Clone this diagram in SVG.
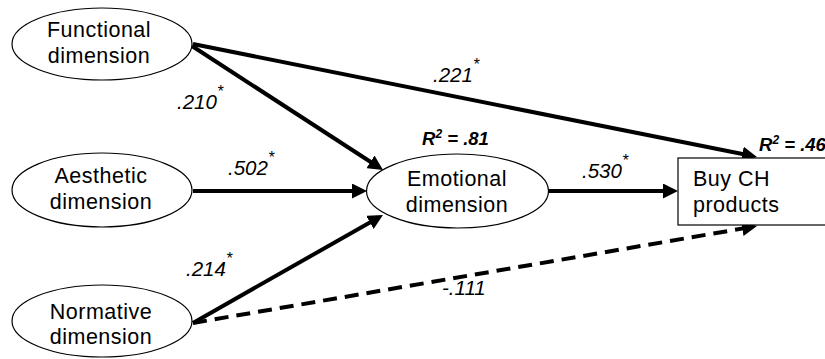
<svg xmlns="http://www.w3.org/2000/svg" width="825" height="359" viewBox="0 0 825 359">
  <style>
    .node { fill: #ffffff; stroke: #000000; stroke-width: 1.2; }
    .lbl { font-family: "Liberation Sans", Arial, sans-serif; font-size: 21.5px; letter-spacing: 0.5px; fill: #000000; text-anchor: middle; }
    .lbl-left { font-family: "Liberation Sans", Arial, sans-serif; font-size: 21.5px; letter-spacing: 0.5px; fill: #000000; }
    .coef { font-family: "Liberation Sans", Arial, sans-serif; font-size: 20.5px; font-style: italic; fill: #000000; }
    .star { font-size: 16px; }
    .rsq { font-family: "Liberation Sans", Arial, sans-serif; font-size: 18.5px; font-style: italic; font-weight: bold; fill: #000000; }
    .path { stroke: #000000; stroke-width: 4; fill: none; }
    .dashed { stroke-dasharray: 14 8; }
  </style>
  <defs>
    <marker id="arrow" markerUnits="userSpaceOnUse" markerWidth="15" markerHeight="15" refX="4" refY="7.5" orient="auto">
      <path d="M0,0 L15,7.5 L0,15 z" fill="#000000"/>
    </marker>
  </defs>

  <!-- paths between constructs -->
  <g id="connectors">
    <line class="path" x1="193" y1="44" x2="746.2" y2="154.8" marker-end="url(#arrow)"/>
    <line class="path" x1="192" y1="46" x2="373.8" y2="164" marker-end="url(#arrow)"/>
    <line class="path" x1="193" y1="191" x2="356" y2="191" marker-end="url(#arrow)"/>
    <line class="path" x1="193" y1="323" x2="373.4" y2="220.4" marker-end="url(#arrow)"/>
    <line class="path dashed" x1="193" y1="323" x2="746.2" y2="227.9" marker-end="url(#arrow)"/>
    <line class="path" x1="548" y1="191" x2="667" y2="191" marker-end="url(#arrow)"/>
  </g>

  <g id="functional">
    <ellipse class="node" cx="102" cy="44" rx="90" ry="36"/>
    <text class="lbl" x="99" y="37">Functional</text>
    <text class="lbl" x="99" y="63">dimension</text>
  </g>

  <g id="aesthetic">
    <ellipse class="node" cx="102" cy="190" rx="90" ry="37"/>
    <text class="lbl" x="101" y="183">Aesthetic</text>
    <text class="lbl" x="101" y="209">dimension</text>
  </g>

  <g id="normative">
    <ellipse class="node" cx="102" cy="321" rx="90" ry="36"/>
    <text class="lbl" x="101" y="319">Normative</text>
    <text class="lbl" x="101" y="344">dimension</text>
  </g>

  <g id="emotional">
    <ellipse class="node" cx="457.5" cy="191" rx="91" ry="37"/>
    <text class="lbl" x="457" y="186">Emotional</text>
    <text class="lbl" x="457" y="212">dimension</text>
    <text class="rsq" x="422" y="145">R<tspan font-size="12" dy="-7">2</tspan><tspan dy="7"> = .81</tspan></text>
  </g>

  <g id="buy-ch">
    <rect class="node" x="678" y="158" width="160" height="67"/>
    <text class="lbl-left" x="693" y="186">Buy CH</text>
    <text class="lbl-left" x="693" y="212">products</text>
    <text class="rsq" x="759" y="151">R<tspan font-size="12" dy="-7">2</tspan><tspan dy="7"> = .46</tspan></text>
  </g>

  <!-- path coefficients -->
  <g id="coefficients">
    <text class="coef" x="177" y="109">.210<tspan class="star" dy="-12">*</tspan></text>
    <text class="coef" x="433" y="82">.221<tspan class="star" dy="-12">*</tspan></text>
    <text class="coef" x="228" y="175">.502<tspan class="star" dy="-12">*</tspan></text>
    <text class="coef" x="186" y="276">.214<tspan class="star" dy="-12">*</tspan></text>
    <text class="coef" x="582" y="178">.530<tspan class="star" dy="-12">*</tspan></text>
    <text class="coef" x="442" y="295">-.111</text>
  </g>
</svg>
